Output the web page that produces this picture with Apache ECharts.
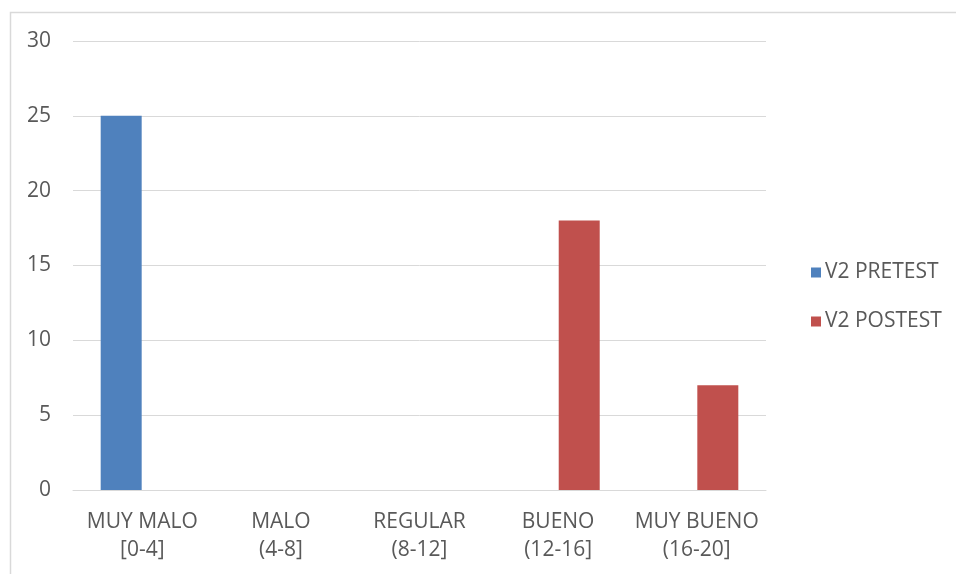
<!DOCTYPE html>
<html><head><meta charset="utf-8">
<script src="https://cdn.jsdelivr.net/npm/echarts@6/dist/echarts.min.js"></script>
<style>html,body{margin:0;padding:0;background:#fff}#c{width:956px;height:574px}</style>
</head><body><div id="c"></div>
<script>
const categories = ['MUY MALO\n[0-4]', 'MALO\n(4-8]', 'REGULAR\n(8-12]', 'BUENO\n(12-16]', 'MUY BUENO\n(16-20]'];
const pretest = [25, 0, 0, 0, 0];
const posttest = [0, 0, 0, 18, 7];
const seriesNames = ['V2 PRETEST', 'V2 POSTEST'];
const yTicks = {min: 0, max: 30, interval: 5};

const chart = echarts.init(document.getElementById('c'), null, {renderer: 'canvas'});
const font = '"Open Sans", sans-serif';
chart.setOption({
  animation: false,
  backgroundColor: '#fff',
  graphic: [{type: 'rect', shape: {x: 10.5, y: 12.5, width: 1000, height: 1000}, style: {fill: 'none', stroke: '#d9d9d9', lineWidth: 1.5}}],
  grid: {left: 73, right: 190, top: 41, bottom: 84, containLabel: false},
  legend: {
    orient: 'vertical', left: 806, top: 257, itemGap: 28, itemWidth: 10, itemHeight: 10,
    icon: 'rect',
    textStyle: {fontFamily: font, fontSize: 21, color: '#595959', padding: [0, 0, 0, -1]},
    data: seriesNames
  },
  xAxis: {
    type: 'category', data: categories,
    axisLine: {lineStyle: {color: '#d9d9d9', width: 1}},
    axisTick: {show: false},
    axisLabel: {fontFamily: font, fontSize: 21, color: '#595959', lineHeight: 28, margin: 18, interval: 0}
  },
  yAxis: {
    type: 'value', min: yTicks.min, max: yTicks.max, interval: yTicks.interval,
    axisLine: {show: false}, axisTick: {show: false},
    splitLine: {lineStyle: {color: '#d9d9d9', width: 1}},
    axisLabel: {fontFamily: font, fontSize: 21, color: '#595959', margin: 22}
  },
  series: [
    {name: seriesNames[0], type: 'bar', data: pretest, barWidth: 41, barGap: '3%', itemStyle: {color: '#4f81bd'}},
    {name: seriesNames[1], type: 'bar', data: posttest, barWidth: 41, barGap: '3%', itemStyle: {color: '#c0504d'}}
  ]
});
</script></body></html>
